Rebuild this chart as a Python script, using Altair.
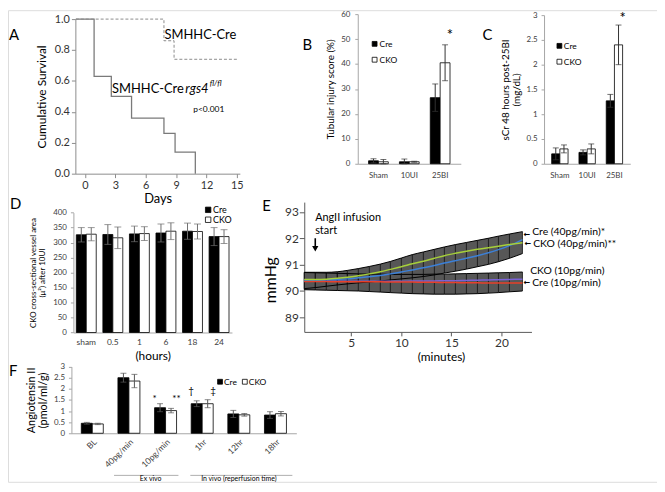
import altair as alt
import pandas as pd

# ---------------- data ----------------
# A: cumulative survival (Kaplan-Meier steps)
a_days_cko = [-0.9, 0.9, 2.6, 4.6, 7.8, 8.9, 10.9]
a_surv_cko = [1.0, 0.63, 0.50, 0.36, 0.26, 0.14, 0.0]
a_days_cre = [-0.9, 7.8, 8.8, 15.15]
a_surv_cre = [1.0, 0.86, 0.74, 0.74]
a_day_ticks = [0, 3, 6, 9, 12, 15]
a_surv_ticks = [0.0, 0.2, 0.4, 0.6, 0.8, 1.0]

series = ["Cre", "CKO"]

# B: tubular injury score
bc_groups = ["Sham", "10UI", "25BI"]
b_cre = [1.2, 0.8, 26.5]
b_cre_err = [0.8, 1.1, 5.5]
b_cko = [0.8, 0.8, 40.5]
b_cko_err = [0.9, 0.2, 7.2]
b_ticks = [0, 10, 20, 30, 40, 50, 60]
b_star = ["25BI", "CKO", 49.7, "*"]

# C: sCr
c_cre = [0.20, 0.23, 1.27]
c_cre_err = [0.12, 0.05, 0.13]
c_cko = [0.30, 0.30, 2.40]
c_cko_err = [0.08, 0.10, 0.40]
c_ticks = [0, 0.5, 1, 1.5, 2, 2.5, 3]
c_star = ["25BI", "CKO", 2.85, "*"]

# D: vessel area
d_groups = ["sham", "0.5", "1", "6", "18", "24"]
d_cre = [326, 327, 329, 332, 338, 320]
d_cre_err = [24, 33, 26, 30, 27, 30]
d_cko = [328, 316, 330, 338, 337, 320]
d_cko_err = [22, 36, 23, 28, 25, 23]
d_ticks = [0, 50, 100, 150, 200, 250, 300, 350, 400]

# E: blood pressure during AngII infusion
e_minutes = [0.3, 1.4, 2.5, 3.6, 4.6, 5.7, 6.8, 7.9, 8.9, 10.0, 11.1,
             12.2, 13.3, 14.3, 15.4, 16.5, 17.6, 18.7, 19.7, 20.8, 22.1]
e_cko40 = [90.44, 90.44, 90.45, 90.48, 90.52, 90.58, 90.65, 90.73, 90.82, 90.92, 91.03,
           91.13, 91.24, 91.34, 91.43, 91.51, 91.58, 91.64, 91.70, 91.76, 91.83]
e_cre40 = [90.42, 90.42, 90.43, 90.44, 90.46, 90.50, 90.54, 90.59, 90.65, 90.72, 90.80,
           90.88, 90.97, 91.06, 91.15, 91.24, 91.34, 91.45, 91.57, 91.72, 91.95]
e_cko10 = [90.37, 90.37, 90.37, 90.37, 90.37, 90.37, 90.37, 90.37, 90.37, 90.37, 90.38,
           90.38, 90.38, 90.39, 90.39, 90.40, 90.41, 90.42, 90.43, 90.44, 90.45]
e_cre10 = [90.36, 90.36, 90.36, 90.35, 90.35, 90.35, 90.35, 90.35, 90.34, 90.34, 90.34,
           90.33, 90.33, 90.32, 90.32, 90.31, 90.31, 90.30, 90.30, 90.30, 90.30]
e_hi40 = [90.71, 90.71, 90.71, 90.73, 90.78, 90.85, 90.93, 91.02, 91.12, 91.25, 91.38,
          91.48, 91.58, 91.67, 91.76, 91.84, 91.92, 92.00, 92.08, 92.16, 92.25]
e_lo40 = [90.09, 90.13, 90.18, 90.23, 90.27, 90.31, 90.34, 90.38, 90.42, 90.46, 90.50,
          90.55, 90.61, 90.68, 90.75, 90.83, 90.92, 91.01, 91.11, 91.24, 91.42]
e_hi10 = [90.70, 90.69, 90.68, 90.67, 90.66, 90.65, 90.64, 90.64, 90.63, 90.63, 90.63,
          90.63, 90.64, 90.64, 90.65, 90.66, 90.67, 90.68, 90.69, 90.70, 90.72]
e_lo10 = [90.05, 90.04, 90.03, 90.02, 90.01, 90.00, 89.98, 89.96, 89.94, 89.92, 89.90,
          89.89, 89.88, 89.88, 89.88, 89.89, 89.90, 89.92, 89.94, 89.97, 90.00]
e_x_ticks = [5, 10, 15, 20]
e_y_ticks = [89, 90, 91, 92, 93]
e_arrow_min = [1.4]
e_arrow_top = [92.0]
e_arrow_head = [91.6]

# F: angiotensin II
f_groups = ["BL", "40pg/min", "10pg/min", "1hr", "12hr", "18hr"]
f_cre = [0.45, 2.50, 1.15, 1.33, 0.87, 0.82]
f_cre_err = [0.04, 0.20, 0.18, 0.13, 0.16, 0.15]
f_cko = [0.42, 2.35, 1.02, 1.33, 0.83, 0.88]
f_cko_err = [0.03, 0.30, 0.10, 0.18, 0.06, 0.10]
f_ticks = [0, 0.5, 1, 1.5, 2, 2.5, 3]
f_marks_group = ["10pg/min", "10pg/min", "1hr", "1hr"]
f_marks_series = ["Cre", "CKO", "Cre", "CKO"]
f_marks_y = [1.40, 1.40, 1.75, 1.75]
f_marks_text = ["*", "**", "\u2020", "\u2021"]

# ---------------- layout helpers ----------------
W, H = 655, 476
FONT = "Lato"


def P(v):
    return v - 8


def T(s, x, y, size, align="left", baseline="middle", color="black",
      style="normal", weight="normal", font=FONT):
    return alt.Chart().mark_text(
        align=align, baseline=baseline, fontSize=size, color=color, font=font,
        fontStyle=style, fontWeight=weight
    ).encode(x=alt.value(P(x)), y=alt.value(P(y)), text=alt.value(s))


def SQ(x, y, size, fill):
    return alt.Chart().mark_square(size=size, fill=fill, stroke="black",
                                   strokeWidth=0.8, opacity=1).encode(
        x=alt.value(P(x)), y=alt.value(P(y)))


def HL(x1, x2, y, color):
    return alt.Chart().mark_rule(color=color, strokeWidth=0.8).encode(
        x=alt.value(P(x1)), x2=alt.value(P(x2)), y=alt.value(P(y)))


def AX(orient, pos, **kw):
    offset = -P(pos) if orient == "left" else P(pos) - H
    d = dict(orient=orient, offset=offset, grid=False, labelFont=FONT,
             titleFont=FONT, titleFontWeight="normal", labelColor="#404040",
             titleColor="black", domainColor="#a6a6a6", tickColor="#a6a6a6",
             labelFontSize=8, titleFontSize=10, tickSize=3, labelPadding=3,
             titlePadding=4, labelOverlap=False)
    d.update(kw)
    return alt.Axis(**d)


def bar_layers(groups, cre, cre_err, cko, cko_err, xr, pi, po, ydom, yr,
               xaxis, yaxis, err_color, cap, marks=None, mark_size=10):
    rows = []
    for s, vals, errs in (("Cre", cre, cre_err), ("CKO", cko, cko_err)):
        for g, v, e in zip(groups, vals, errs):
            rows.append(dict(g=g, s=s, v=v, lo=max(v - e, 0), hi=v + e))
    df = pd.DataFrame(rows)
    xs = alt.Scale(domain=groups, range=xr, paddingInner=pi, paddingOuter=po)
    ys = alt.Scale(domain=ydom, range=yr, nice=False, zero=True)
    osc = alt.Scale(domain=series, paddingInner=0, paddingOuter=0)

    def X(axis=None):
        return alt.X("g:N", scale=xs, axis=axis, sort=groups)

    XO = alt.XOffset("s:N", scale=osc, sort=series)

    def Y(field, axis=None):
        return alt.Y(f"{field}:Q", scale=ys, axis=axis)

    base = alt.Chart(df)
    out = [
        base.mark_bar(stroke="black", strokeWidth=0.8).encode(
            x=X(xaxis), xOffset=XO, y=Y("v", yaxis),
            fill=alt.Fill("s:N", scale=alt.Scale(domain=series, range=["black", "white"]),
                          legend=None)),
        base.mark_rule(color=err_color, strokeWidth=1).encode(
            x=X(), xOffset=XO, y=Y("lo"), y2="hi:Q"),
        base.mark_tick(color=err_color, size=cap, thickness=1).encode(
            x=X(), xOffset=XO, y=Y("hi")),
        base.mark_tick(color=err_color, size=cap, thickness=1).encode(
            x=X(), xOffset=XO, y=Y("lo")),
    ]
    if marks is not None:
        mdf = pd.DataFrame(marks, columns=["g", "s", "y", "t"])
        out.append(alt.Chart(mdf).mark_text(fontSize=mark_size, font=FONT, color="black",
                                            baseline="alphabetic").encode(
            x=X(), xOffset=XO, y=Y("y"), text="t:N"))
    return out


layers = []

# ---------------- Panel A ----------------
dfa1 = pd.DataFrame({"d": a_days_cko, "s": a_surv_cko})
dfa2 = pd.DataFrame({"d": a_days_cre, "s": a_surv_cre})
xsA = alt.Scale(domain=[-0.95, 15.3], range=[P(76), P(242)], nice=False, zero=False)
ysA = alt.Scale(domain=[0, 1], range=[P(173), P(17)], nice=False, zero=False)
axAx = AX("bottom", 173, values=a_day_ticks, title="Days", labelFontSize=11,
          titleFontSize=13, tickSize=4, labelPadding=2, titlePadding=2,
          domainColor="#8c8c8c", tickColor="#8c8c8c", labelColor="#333333")
axAy = AX("left", 76, values=a_surv_ticks, format=".1f", title="Cumulative Survival",
          labelFontSize=11, titleFontSize=12, tickSize=4, labelPadding=2,
          titlePadding=6, domainColor="#8c8c8c", tickColor="#8c8c8c",
          labelColor="#333333")
layers.append(alt.Chart(dfa1).mark_line(interpolate="step-after", color="#7a7a7a",
                                        strokeWidth=1.3).encode(
    x=alt.X("d:Q", scale=xsA, axis=axAx), y=alt.Y("s:Q", scale=ysA, axis=axAy)))
layers.append(alt.Chart(dfa2).mark_line(interpolate="step-after", color="#8c8c8c",
                                        strokeWidth=1, strokeDash=[3, 2]).encode(
    x=alt.X("d:Q", scale=xsA, axis=None), y=alt.Y("s:Q", scale=ysA, axis=None)))
layers += [
    T("A", 9, 33, 15),
    T("SMHHC-Cre", 166, 33, 13),
    T("SMHHC-Cre", 113, 88, 13),
    T("rgs4", 187, 88, 13, style="italic"),
    T("fl/fl", 211.5, 83, 8, style="italic"),
    T("p<0.001", 195, 108, 8.5),
]

# ---------------- Panel B ----------------
axBx = AX("bottom", 163, ticks=False, labelPadding=8, title=None, labelAngle=0)
axBy = AX("left", 361, values=b_ticks, title="Tubular injury score (%)",
          labelPadding=5, titlePadding=5)
layers += bar_layers(bc_groups, b_cre, b_cre_err, b_cko, b_cko_err,
                     [P(361), P(465)], 0.36, 0.35, [0, 60], [P(163), P(12)],
                     axBx, axBy, "#333333", 6, marks=[b_star], mark_size=15)
layers += [
    T("B", 310, 43, 15, align="center"),
    SQ(378, 42, 24, "black"), T("Cre", 383, 42, 8.5),
    SQ(378, 58, 24, "white"), T("CKO", 383, 58, 8.5),
]

# ---------------- Panel C ----------------
axCx = AX("bottom", 163, ticks=False, labelPadding=8, title=None, labelAngle=0)
axCy = AX("left", 549, values=c_ticks, format="~g",
          title=["sCr  48 hours post-25BI", "(mg/dL)"], titleLineHeight=11,
          labelPadding=4, titlePadding=5)
layers += bar_layers(bc_groups, c_cre, c_cre_err, c_cko, c_cko_err,
                     [P(549), P(636)], 0.4, 0.28, [0, 3], [P(163), P(13)],
                     axCx, axCy, "#333333", 6, marks=[c_star], mark_size=15)
layers += [
    T("C", 492, 33, 15, align="center"),
    SQ(564.5, 44, 24, "black"), T("Cre", 569, 44, 8.5),
    SQ(564.5, 60, 24, "white"), T("CKO", 569, 60, 8.5),
]

# ---------------- Panel D ----------------
axDx = AX("bottom", 333.3, ticks=False, labelPadding=5, title="(hours)",
          titleFontSize=12, titlePadding=5, labelAngle=0, labelFontSize=8.5)
axDy = AX("left", 74, values=d_ticks, labelPadding=4,
          title=["CKO cross-sectional vessel area", "(\u03bc\u00b2) after 10UI"],
          titleFontSize=8, titleLineHeight=9, titlePadding=6)
layers += bar_layers(d_groups, d_cre, d_cre_err, d_cko, d_cko_err,
                     [P(74), P(234)], 0.25, 0.11, [0, 400], [P(333.3), P(212.3)],
                     axDx, axDy, "#6e6e6e", 7)
layers += [
    T("D", 10, 204, 15),
    SQ(210, 209.5, 30, "black"), T("Cre", 215, 209.5, 9),
    SQ(210, 219.5, 30, "white"), T("CKO", 215, 219.5, 9),
]

# ---------------- Panel E ----------------
dfe = pd.DataFrame({"m": e_minutes, "cko40": e_cko40, "cre40": e_cre40,
                    "cko10": e_cko10, "cre10": e_cre10, "hi40": e_hi40,
                    "lo40": e_lo40, "hi10": e_hi10, "lo10": e_lo10})
xsE = alt.Scale(domain=[0.3, 23.0], range=[P(307), P(536.3)], nice=False, zero=False)
ysE = alt.Scale(domain=[88.45, 93.37], range=[P(332.7), P(201.7)], nice=False, zero=False)
axEx = AX("bottom", 332.7, values=e_x_ticks, title="(minutes)", labelFontSize=12,
          titleFontSize=12, tickSize=4, labelPadding=2, titlePadding=3,
          domainColor="#595959", tickColor="#595959", labelColor="#333333",
          titleX=P(445))
axEy = AX("left", 307, values=e_y_ticks, title="mmHg", labelFontSize=12,
          titleFontSize=16, tickSize=5, labelPadding=1, titlePadding=6,
          domainColor="#595959", tickColor="#595959", labelColor="#333333",
          titleY=P(280))


def EX(axis=None):
    return alt.X("m:Q", scale=xsE, axis=axis)


def EY(field, axis=None):
    return alt.Y(f"{field}:Q", scale=ysE, axis=axis)


be = alt.Chart(dfe)
layers += [
    be.mark_area(color="#575757", opacity=1).encode(x=EX(axEx), y=EY("lo10", axEy), y2="hi10:Q"),
    be.mark_area(color="#575757", opacity=1).encode(x=EX(), y=EY("lo40"), y2="hi40:Q"),
    be.mark_rule(color="#111111", strokeWidth=0.8).encode(x=EX(), y=EY("lo10"), y2="hi10:Q"),
    be.mark_rule(color="#111111", strokeWidth=0.8).encode(x=EX(), y=EY("lo40"), y2="hi40:Q"),
    be.transform_fold(["lo10", "hi10", "lo40", "hi40"], as_=["k", "val"]).mark_line(
        color="black", strokeWidth=1, interpolate="monotone").encode(
        x=EX(), y=EY("val"), detail="k:N"),
    be.transform_fold(["cko10", "cre10", "cre40", "cko40"], as_=["k", "val"]).mark_line(
        strokeWidth=1.5, interpolate="monotone").encode(
        x=EX(), y=EY("val"),
        color=alt.Color("k:N", scale=alt.Scale(domain=["cko10", "cre10", "cre40", "cko40"],
                                               range=["#7b62d6", "#e8402a", "#3c80d8", "#a6cf3a"]),
                        legend=None)),
]
dfarrow = pd.DataFrame({"m": e_arrow_min, "top": e_arrow_top, "head": e_arrow_head})
layers += [
    alt.Chart(dfarrow).mark_rule(color="black", strokeWidth=1.6).encode(
        x=EX(), y=EY("top"), y2="head:Q"),
    alt.Chart(dfarrow).mark_point(shape="triangle-down", filled=True, size=40,
                                  color="black", opacity=1).encode(x=EX(), y=EY("head")),
]
layers += [
    T("E", 269, 206, 15, align="center"),
    T("AngII infusion", 318, 218, 11),
    T("start", 318, 231, 11),
    T("Cre (40pg/min)*", 537, 232, 10.5),
    T("CKO (40pg/min)**", 538, 244, 10.5),
    T("CKO (10pg/min)", 535, 271, 10.5),
    T("Cre (10pg/min)", 537, 283, 10.5),
    T("\u2190", 531.5, 235, 8, align="center", weight="bold", font="DejaVu Sans"),
    T("\u2190", 532.5, 244, 8, align="center", weight="bold", font="DejaVu Sans"),
    T("\u2190", 531.5, 283, 8, align="center", weight="bold", font="DejaVu Sans"),
]

# ---------------- Panel F ----------------
axFx = AX("bottom", 435, ticks=False, labelAngle=-45, labelPadding=4,
          labelFontSize=8.5, title=None)
axFy = AX("left", 72, values=f_ticks, format="~g",
          title=["Angiotensin II", "(pmol/ml/g)"], titleFontSize=11,
          titleLineHeight=12, labelPadding=4, titlePadding=5)
f_marks = [list(r) for r in zip(f_marks_group, f_marks_series, f_marks_y, f_marks_text)]
layers += bar_layers(f_groups, f_cre, f_cre_err, f_cko, f_cko_err,
                     [P(72), P(299)], 0.4, 0.27, [0, 3], [P(435), P(367.7)],
                     axFx, axFy, "#555555", 6, marks=f_marks, mark_size=10)
layers += [
    T("F", 9, 372, 15),
    SQ(222, 383, 24, "black"), T("Cre", 226, 383, 8.5),
    SQ(247, 383, 24, "white"), T("CKO", 251, 383, 8.5),
    HL(115, 180, 477.5, "#9a9a9a"),
    HL(192, 295, 477.5, "#9a9a9a"),
    T("Ex vivo", 152, 481.5, 7, align="center"),
    T("In vivo (reperfusion time)", 241, 481.5, 7, align="center"),
]

chart = alt.layer(*layers).resolve_scale(
    x="independent", y="independent", xOffset="independent",
    fill="independent", color="independent"
).resolve_axis(x="independent", y="independent").properties(
    width=W, height=H, padding=0,
    autosize=alt.AutoSizeParams(type="none")
).configure_view(stroke=None).configure(font=FONT)

chart.save("out.html", embed_options={"renderer": "svg", "actions": False})
